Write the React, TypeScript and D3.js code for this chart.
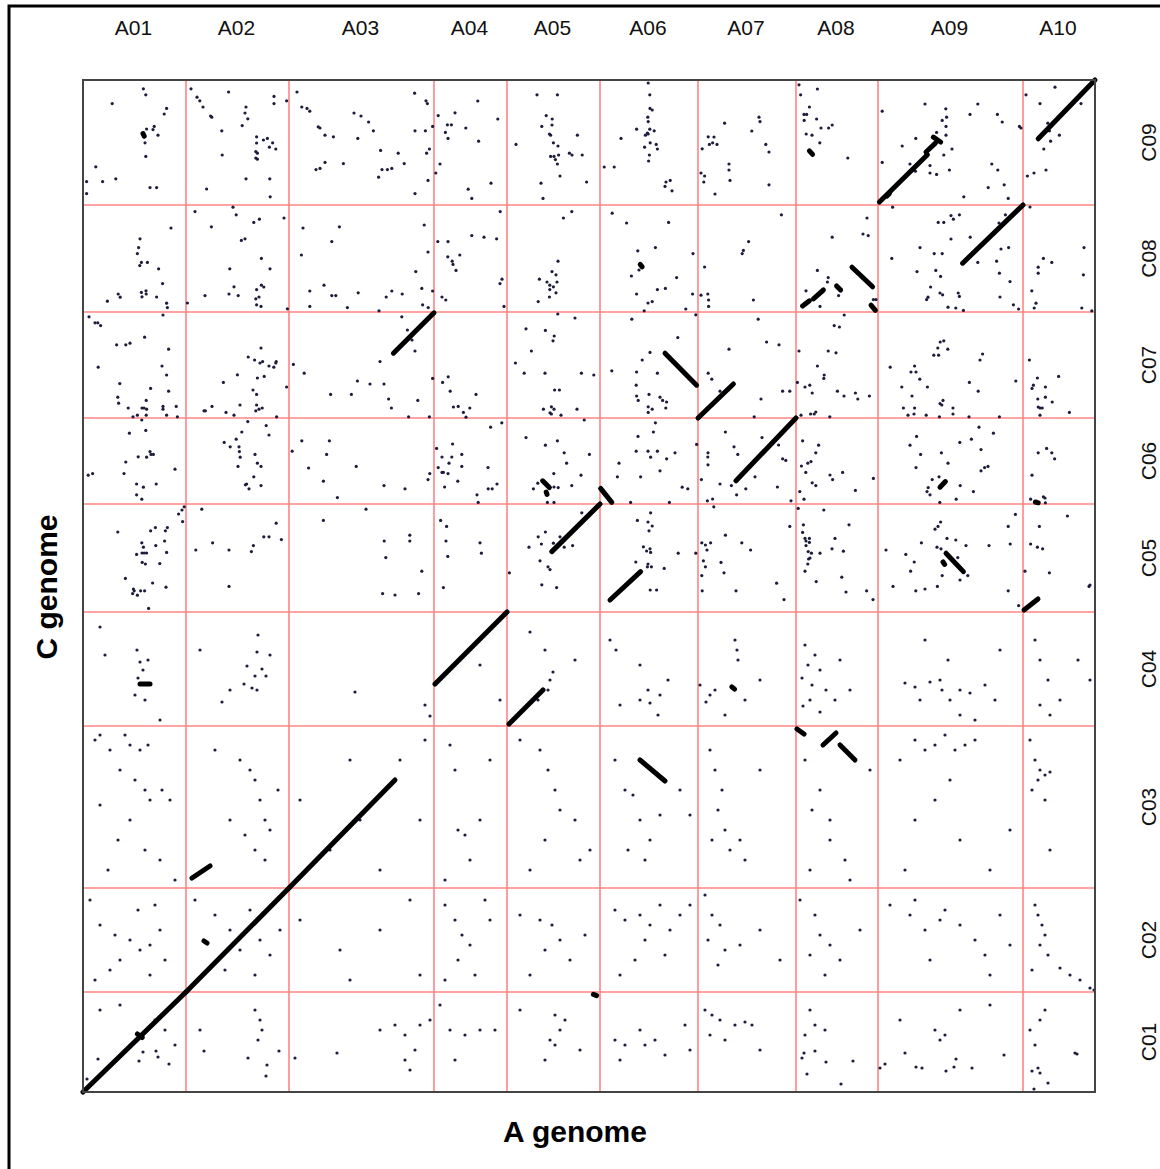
import React, { useRef, useEffect } from "react";
import * as d3 from "d3";

// chromosome names and lengths (Mb)
const aChroms = ["A01", "A02", "A03", "A04", "A05", "A06", "A07", "A08", "A09", "A10"];
const aLengths = [25.75, 25.75, 36.25, 18.25, 23.25, 24.5, 24.5, 20.5, 36.25, 18.0];
const cChroms = ["C01", "C02", "C03", "C04", "C05", "C06", "C07", "C08", "C09"];
const cLengths = [25, 26, 40.5, 28.5, 27, 21.5, 26.5, 26.75, 31.25];

// syntenic blocks, positions on the concatenated genomes: [aStart, cStart, aEnd, cEnd]
const blocks: number[][] = [
  [0, 0, 25.75, 25], [25.75, 25, 51.5, 51], [51.5, 51, 78, 78],
  [88.0, 102.0, 106.0, 120.0], [106.5, 92.0, 115.0, 100.5],
  [139.25, 83.0, 145.5, 77.75],
  [178.5, 90.75, 180.25, 89.5], [185.0, 86.75, 188.25, 89.75], [189.25, 86.75, 193.0, 83.0],
  [162.2, 101.3, 162.9, 100.7], [13.6, 14.5, 14.8, 13.6], [27.25, 53.5, 31.75, 56.5],
  [14.25, 102.0, 16.75, 102.0], [30.25, 37.75, 31.0, 37.25], [127.6, 24.4, 128.4, 24.1],
  [117.2, 135.1, 129.25, 147.0], [131.75, 123.0, 139.4, 130.1],
  [215.75, 134.7, 220.1, 130.1], [215.0, 132.5, 215.4, 131.9], [235.25, 120.5, 238.75, 123.25],
  [163.25, 152.8, 178.25, 168.5], [114.9, 152.8, 116.6, 151.1], [129.4, 150.9, 132.2, 147.4],
  [214.25, 151.2, 215.6, 152.6], [115.8, 150.0, 116.0, 149.4], [238.1, 147.5, 238.8, 147.3],
  [145.5, 184.7, 153.4, 176.7], [153.75, 168.5, 162.6, 177.0], [77.6, 184.7, 87.75, 194.8],
  [219.9, 207.2, 235.0, 221.75],
  [192.25, 206.2, 197.4, 201.3], [188.4, 201.5, 189.4, 200.5], [182.6, 198.3, 185.1, 200.5],
  [179.9, 196.5, 181.6, 197.8], [197.0, 196.7, 198.1, 195.4], [139.3, 206.9, 139.8, 206.3],
  [199.1, 222.5, 211.1, 234.3], [210.75, 235.0, 213.1, 237.2], [212.6, 238.7, 214.4, 237.5],
  [201.0, 224.0, 201.6, 224.6], [238.8, 238.3, 253.0, 253.0],
  [15.0, 239.6, 15.3, 239.0], [181.6, 235.3, 182.4, 234.4],
];

// scattered single hits: [aPos, cPos] on the concatenated genomes
const hitsC09: number[][] = [
  [15.1,250.8],[15.7,249.3],[7.3,247.1],[20.9,245.9],[20.3,244.5],[17.8,241.4],[17.5,240.6],[15.9,240.75],[15.25,238.7],[15.5,237.3],[18.75,239.2],[15.7,233.9],[3.2,231.3],[8.2,228.3],[4.9,227.6],[0.9,227.6],[0.9,224.6],[16.75,226.1],[18.4,226.1],
  [27.0,250.8],[36.4,250.0],[28.5,248.7],[29.2,247.8],[30.0,246.25],[47.75,248.9],[47.75,247.1],[50.9,247.8],[40.75,246.25],[40.5,244.75],[41.2,243.3],[31.9,244.0],[32.2,243.7],[39.8,241.6],[34.7,240.3],[43.4,238.8],[45.1,238.0],[46.1,238.4],[47.4,237.3],[43.4,237.25],[46.6,236.2],[48.2,235.75],[43.2,235.1],[43.6,234.7],[43.2,233.5],[43.6,233.2],[34.8,234.25],[40.75,228.3],[46.7,228.3],[30.9,225.75],[46.8,223.8],
  [53.5,250.0],[54.7,246.25],[56.0,245.9],[56.7,245.2],[58.8,241.3],[59.25,241.0],[60.5,239.2],[62.6,238.8],[67.75,244.75],[69.5,244.0],[71.4,242.5],[72.6,240.3],[68.7,238.4],[82.9,249.7],[85.75,247.8],[86.1,247.1],[83.0,240.3],[85.6,240.3],[87.4,241.4],[86.6,235.75],[85.9,234.7],[74.4,235.4],[78.8,234.7],[80.3,232.1],[77.2,230.9],[76.1,230.6],[74.75,230.6],[73.9,228.7],[65.1,232.1],[60.5,232.4],[59.25,230.9],[58.25,230.6],[86.25,227.9],[83.0,224.6],
  [98.7,247.75],[93.0,244.8],[88.8,244.1],[103.7,243.25],[91.1,241.8],[92.1,241.8],[95.7,241.0],[90.6,239.9],[91.25,238.4],[98.9,237.7],[89.25,232.0],[88.2,229.75],[96.3,225.7],[102.0,227.2],[97.2,223.4],
  [113.5,249.3],[118.6,249.3],[115.8,244.1],[117.3,243.25],[114.7,241.4],[117.25,241.75],[116.6,239.5],[116.9,239.2],[108.25,236.9],[117.6,237.3],[118.75,236.5],[123.6,239.2],[116.9,233.9],[117.75,233.9],[118.1,233.1],[118.9,234.25],[121.6,234.7],[122.25,234.25],[124.8,234.25],[118.6,232.0],[119.25,229.0],[125.9,227.5],[114.5,227.2],[115.0,223.4],
  [141.3,252.25],[141.7,249.3],[141.75,245.9],[142.3,245.5],[141.2,243.7],[141.3,242.6],[141.7,240.7],[142.8,240.3],[138.4,240.7],[140.6,239.2],[141.1,239.75],[141.3,239.5],[141.8,237.3],[143.3,236.9],[143.6,235.75],[140.4,236.2],[141.6,234.25],[141.4,232.75],[134.5,238.4],[130.3,231.25],[132.8,231.25],[145.75,227.5],[146.8,227.9],[145.5,226.4],[147.25,225.3],
  [160.4,242.2],[169.0,243.7],[169.25,242.6],[167.2,240.25],[156.3,238.8],[157.75,238.75],[156.6,236.9],[157.4,237.3],[158.5,236.9],[154.8,235.8],[170.7,236.9],[171.5,235.0],[161.5,232.0],[161.5,230.5],[161.75,227.9],[154.5,229.75],[155.4,229.0],[155.2,227.5],[171.5,226.8],[158.0,224.5],
  [179.0,251.8],[183.6,250.75],[179.4,249.3],[181.6,246.25],[180.25,244.4],[180.9,244.4],[180.3,242.9],[183.4,243.25],[184.5,241.0],[186.4,241.0],[187.3,241.75],[180.8,239.5],[182.25,239.2],[184.2,237.3],[191.2,233.5],
  [199.8,245.2],[210.5,247.0],[215.7,245.8],[215.9,243.7],[214.8,242.9],[215.75,241.4],[213.4,239.9],[215.75,239.2],[208.2,238.4],[204.8,236.5],[217.25,235.75],[215.2,234.25],[211.75,231.6],[211.75,229.75],[213.4,229.4],[216.6,230.5],[206.75,232.0],[208.1,230.2],[199.8,232.4],[223.7,247.0],[221.75,244.4],[228.6,244.4],[229.8,242.5],[234.1,241.4],[234.5,241.0],[227.2,232.0],[228.7,230.5],[226.3,226.1],[230.3,226.8],[231.3,223.4],[220.2,223.8],
  [235.75,249.3],[243.0,251.2],[239.25,247.1],[249.5,247.1],[241.2,242.2],[241.6,240.3],[244.1,239.2],[241.9,237.7],[240.2,235.75],[240.75,230.5],[237.75,229.75],[236.1,229.0],
];

const hitsC08: number[][] = [
  [22.0,216.0],[14.25,213.3],[13.9,211.1],[13.6,209.6],[14.6,207.4],[14.2,206.6],[16.1,207.4],[18.9,205.8],[19.9,202.1],[8.8,199.5],[9.3,198.7],[6.1,197.7],[14.6,199.9],[14.75,198.8],[15.75,200.3],[15.8,199.5],[18.4,198.75],[20.9,197.2],[21.1,196.1],
  [37.5,221.2],[38.3,219.3],[28.0,220.1],[32.1,216.3],[42.7,217.4],[44.1,218.2],[50.25,218.5],[39.6,212.9],[40.5,213.3],[44.6,208.4],[36.7,205.8],[46.75,205.8],[37.75,201.3],[36.5,199.5],[38.8,199.1],[30.5,199.1],[43.4,200.6],[44.6,201.7],[45.2,201.25],[43.2,198.3],[44.0,198.75],[43.4,196.8],[44.5,196.4],[51.1,195.8],[26.1,197.25],
  [55.0,216.0],[64.1,216.3],[54.6,209.25],[62.2,212.6],[85.3,216.75],[86.25,210.0],[83.2,205.1],[60.25,201.7],[56.7,200.25],[62.2,199.1],[63.2,199.1],[68.8,199.8],[77.2,200.25],[75.8,198.75],[79.8,199.5],[84.7,200.9],[87.4,200.25],[56.7,196.4],[66.1,196.1],[74.0,195.3],[84.9,196.8],[86.3,196.1],
  [104.3,220.1],[88.7,212.6],[91.25,212.6],[97.2,214.1],[100.25,213.7],[103.4,213.3],[91.2,208.8],[94.2,209.25],[92.3,207.7],[92.5,206.9],[93.25,205.4],[104.75,203.2],[104.25,202.1],[89.75,198.75],[90.7,198.0],[105.25,196.4],
  [122.2,220.1],[120.1,218.5],[118.75,207.7],[117.25,205.1],[118.25,204.3],[114.1,203.2],[116.0,202.5],[116.7,201.7],[117.6,201.3],[118.5,202.5],[116.7,200.6],[118.25,199.8],[116.6,198.75],[113.8,197.6],
  [132.3,219.7],[135.9,217.25],[146.4,217.4],[138.7,210.3],[143.1,211.1],[139.0,205.5],[137.1,204.0],[148.4,203.6],[143.6,200.6],[145.6,200.9],[138.4,199.5],[141.25,197.25],[142.3,197.6],[140.3,195.3],[150.7,195.75],[152.4,199.5],[152.5,209.6],
  [174.6,219.3],[166.4,212.6],[165.1,210.4],[164.8,209.6],[155.4,206.25],[154.5,199.2],[156.2,199.5],[156.4,198.0],[156.4,196.4],[167.6,198.0],
  [196.0,218.5],[187.3,213.7],[195.0,214.5],[196.3,214.1],[183.6,205.4],[186.3,203.6],[186.1,202.5],[188.9,199.1],[180.75,200.3],[184.25,196.4],[197.6,198.1],[198.25,198.1],
  [202.4,221.2],[213.8,217.4],[215.2,217.4],[217.0,219.1],[217.6,218.2],[219.1,219.3],[217.0,213.25],[221.8,213.7],[209.25,211.1],[212.8,209.6],[214.8,209.6],[202.2,208.4],[208.5,205.1],[213.2,205.4],[214.4,203.9],[211.9,201.25],[214.25,199.75],[214.9,199.3],[210.9,198.1],[211.25,198.7],[218.8,199.75],[219.1,198.9],[216.25,196.2],[218.2,196.0],[220.1,195.4],[223.7,207.4],[228.4,207.7],[229.1,204.7],[229.25,198.75],[229.5,210.75],[231.4,211.1],[231.75,202.6],[232.6,196.8],[233.9,195.75],[230.6,219.3],[229.0,217.25],
  [236.75,221.25],[250.25,211.1],[240.1,208.4],[242.2,207.4],[238.8,206.2],[238.8,204.7],[250.1,204.3],[237.2,200.3],[238.25,197.2],[237.8,196.0],[249.7,196.0],[252.2,195.3],
];

const hitsC07: number[][] = [
  [1.5,193.8],[3.0,192.3],[3.7,192.3],[4.4,191.6],[20.0,194.25],[15.4,188.7],[8.4,186.8],[10.7,186.8],[11.75,187.2],[21.4,185.7],[3.8,181.2],[19.75,181.5],[20.9,179.25],[9.2,177.1],[16.9,175.9],[21.4,175.2],[8.7,173.7],[8.9,172.2],[15.8,172.9],[11.3,171.0],[14.75,171.0],[15.25,171.0],[15.9,170.7],[20.0,171.4],[20.0,170.7],[23.3,171.4],[12.5,168.8],[13.6,169.2],[15.8,169.2],[20.9,169.2],[23.6,168.8],
  [44.5,186.0],[41.3,183.75],[42.9,183.0],[44.25,182.25],[44.9,182.6],[48.3,182.6],[48.2,182.25],[46.5,181.5],[47.7,181.2],[38.6,179.3],[43.6,178.5],[45.3,178.9],[35.1,177.4],[42.5,175.5],[43.4,174.4],[50.9,176.25],[39.25,171.75],[32.25,171.4],[30.25,170.3],[30.6,170.3],[35.75,169.9],[37.75,169.2],[43.2,170.3],[44.0,170.7],[44.8,171.0],[43.4,171.75],[48.4,168.8],
  [79.7,193.8],[81.1,190.5],[82.25,188.0],[83.0,185.25],[74.25,182.6],[52.6,181.9],[55.3,179.7],[68.6,177.75],[71.75,177.0],[75.25,177.0],[61.9,174.4],[67.1,174.4],[76.4,173.25],[77.1,171.0],[83.7,172.9],[81.4,168.8],[86.6,168.8],[87.4,178.4],
  [91.3,178.8],[89.9,177.4],[91.8,175.2],[98.25,174.4],[92.6,171.25],[93.8,171.4],[96.7,171.0],[95.1,169.9],[95.75,168.7],
  [118.7,194.5],[123.0,193.5],[110.75,190.8],[115.6,190.4],[117.8,189.0],[117.5,187.8],[112.1,185.25],[108.1,182.25],[110.3,179.7],[115.5,179.7],[124.6,179.7],[127.7,179.25],[117.9,175.5],[119.1,175.5],[115.1,170.7],[117.1,171.3],[117.75,170.7],[116.75,169.8],[117.1,169.5],[119.5,169.2],[123.5,170.7],
  [137.2,193.2],[148.7,188.6],[141.75,184.9],[139.8,183.0],[132.2,180.3],[138.4,180.0],[143.6,179.7],[138.3,176.7],[138.4,174.0],[138.8,172.9],[141.5,174.4],[144.25,173.7],[144.9,172.9],[145.9,172.5],[145.7,171.0],[141.3,171.3],[142.3,170.7],[141.3,169.9],[153.2,194.3],
  [168.8,193.2],[170.9,187.5],[174.0,186.8],[161.5,185.7],[156.3,179.7],[157.2,178.2],[159.25,175.2],[169.5,173.25],[174.9,175.2],[176.7,175.2],[167.8,168.8],
  [190.3,194.25],[187.8,191.6],[189.1,191.25],[179.0,185.25],[186.3,185.25],[188.25,184.8],[183.6,181.5],[185.3,179.25],[185.2,178.4],[180.5,176.25],[181.7,176.7],[182.3,174.75],[188.6,175.2],[190.25,174.0],[193.1,174.75],[193.7,173.25],[196.6,174.0],[178.6,177.4],[179.5,169.2],[181.9,169.5],[182.8,169.5],[183.2,170.0],[186.7,168.8],
  [214.3,187.5],[215.2,187.8],[213.7,186.0],[216.2,185.7],[212.7,184.2],[213.9,184.2],[224.9,184.5],[224.25,183.0],[201.8,181.2],[207.9,181.5],[207.0,180.0],[208.25,180.0],[209.2,178.2],[204.7,176.25],[211.1,176.25],[221.6,177.4],[223.8,175.2],[233.2,177.75],[207.25,174.0],[214.25,172.1],[215.0,172.9],[214.7,171.75],[205.1,171.0],[207.9,171.0],[217.5,171.0],[206.25,169.2],[207.75,169.5],[210.8,169.2],[214.1,168.8],[217.5,169.5],[221.5,168.8],[229.1,168.8],
  [236.6,183.0],[238.6,178.5],[243.9,178.9],[237.6,176.7],[237.25,175.9],[240.6,176.25],[238.7,173.25],[240.6,173.7],[242.3,172.5],[238.8,171.25],[239.25,171.0],[239.8,171.0],[246.6,169.9],[239.25,169.2],
];

const hitsC06: number[][] = [
  [14.7,168.0],[15.7,165.4],[11.6,164.7],[16.75,160.1],[17.0,159.4],[17.6,159.4],[13.8,158.8],[15.9,158.7],[10.7,157.5],[1.3,154.2],[2.4,154.6],[10.25,154.6],[23.0,155.7],[13.4,152.0],[15.1,151.2],[18.3,152.0],[13.4,149.3],[14.7,148.2],
  [41.2,167.6],[45.8,166.6],[46.5,164.25],[39.7,165.0],[38.3,163.2],[35.3,162.4],[36.8,161.3],[39.0,161.3],[39.1,160.1],[39.3,158.7],[43.0,159.4],[38.75,156.4],[43.6,157.2],[44.5,156.4],[42.7,153.8],[40.9,152.0],[40.6,151.8],[41.5,150.8],[44.5,151.6],
  [54.7,162.8],[61.6,162.8],[52.3,160.2],[60.9,159.4],[56.4,156.0],[68.3,156.4],[60.1,152.7],[63.6,148.6],[75.25,151.6],[80.5,150.8],[86.25,153.1],[86.7,154.6],
  [104.7,167.3],[101.9,166.2],[92.4,162.0],[88.4,160.9],[89.75,158.75],[92.2,158.75],[94.7,159.4],[91.5,157.2],[88.8,156.1],[89.75,154.9],[90.1,154.9],[91.25,154.6],[94.7,156.4],[101.25,156.1],[93.7,152.7],[90.4,151.25],[101.3,150.8],[102.3,150.8],[103.5,152.0],[98.5,149.3],[98.8,147.4],
  [125.3,168.0],[110.75,163.6],[118.6,162.8],[115.6,161.7],[120.3,159.8],[126.6,159.4],[120.9,157.2],[124.5,154.2],[117.7,154.6],[113.7,152.2],[116.1,147.4],[117.75,147.4],[117.75,151.25],[118.8,151.1],[122.2,151.6],[112.6,150.8],
  [143.1,167.3],[142.6,165.0],[138.75,163.9],[153.4,161.9],[138.3,160.2],[141.25,160.2],[143.6,160.2],[141.9,158.7],[145.9,158.3],[148.0,159.8],[134.0,157.2],[133.6,153.8],[139.4,153.8],[144.25,155.3],[149.8,151.2],[151.2,150.8],[136.9,147.4],[146.6,147.4],
  [160.6,165.0],[169.75,163.6],[173.9,161.75],[162.75,161.3],[163.7,159.4],[156.25,159.8],[156.2,158.75],[156.25,156.8],[174.9,158.3],[175.7,157.9],[168.0,153.8],[154.6,153.1],[159.25,152.0],[162.1,151.6],[165.7,150.8],[173.6,151.25],[163.4,149.3],[157.4,148.25],[156.1,147.8],[177.0,147.8],
  [179.9,162.8],[183.9,161.7],[183.2,159.8],[182.0,157.6],[181.2,157.2],[179.6,156.5],[180.7,154.9],[186.75,154.25],[187.4,153.1],[189.9,154.9],[182.3,152.3],[183.2,151.6],[193.1,150.4],[197.6,153.4],[179.2,150.1],[180.25,148.2],
  [224.0,166.2],[227.6,164.7],[208.4,163.9],[206.75,161.7],[219.2,162.4],[222.1,163.2],[209.4,159.4],[214.6,159.8],[224.5,160.6],[216.25,157.2],[208.25,156.1],[224.5,155.3],[225.4,156.1],[226.25,156.4],[214.0,153.8],[212.3,153.1],[211.3,151.1],[211.0,150.1],[211.75,149.3],[219.3,151.6],[222.6,150.1],[214.2,147.4],[218.3,148.2],
  [240.9,160.9],[238.8,159.8],[242.2,159.8],[242.9,158.3],[237.25,154.2],[240.1,148.8],[240.5,148.5],[236.9,148.2],[240.6,147.3],
];

const hitsC05: number[][] = [
  [25.3,146.3],[24.75,145.5],[23.9,144.5],[24.9,142.6],[8.7,140.0],[16.9,140.3],[18.1,141.1],[21.1,141.1],[20.6,140.3],[14.7,137.3],[15.1,136.2],[20.4,137.75],[18.2,136.6],[13.4,134.4],[14.75,134.75],[15.3,134.75],[15.9,134.75],[20.9,134.9],[19.2,132.1],[14.8,132.4],[15.6,132.0],[10.6,128.4],[17.4,127.25],[12.6,125.75],[12.8,125.3],[14.4,125.3],[15.4,125.3],[12.4,124.6],[13.6,124.2],[20.75,126.2],[16.4,120.9],
  [29.7,145.7],[48.3,142.2],[45.2,138.8],[46.5,138.8],[49.6,138.1],[32.4,137.3],[28.2,135.5],[36.5,135.5],[42.6,136.6],[42.1,135.1],[36.5,126.4],
  [70.75,145.7],[60.1,142.9],[81.7,139.2],[81.7,137.75],[75.3,137.75],[75.7,133.6],[84.7,130.2],[74.9,124.6],[78.0,124.25],[83.9,124.6],
  [89.4,142.9],[90.9,141.4],[90.75,137.75],[91.2,133.9],[99.25,137.3],[99.6,134.7],[90.1,126.1],
  [124.7,144.8],[115.6,140.0],[113.8,138.8],[114.6,137.0],[117.6,137.2],[119.25,138.8],[120.3,136.2],[122.4,136.6],[111.5,136.2],[114.25,132.8],[116.25,131.3],[116.75,130.6],[106.6,129.8],[114.7,126.8],[118.4,126.1],
  [141.9,144.8],[138.6,142.9],[141.25,142.5],[142.3,141.5],[141.5,140.3],[140.1,136.3],[141.75,135.8],[140.9,135.25],[141.9,134.9],[138.2,132.5],[141.25,132.0],[142.1,131.3],[141.1,131.3],[145.3,130.9],[148.8,134.7],[153.2,134.7],[141.8,125.5],[143.4,125.5],
  [157.7,146.3],[160.6,139.2],[164.7,137.3],[166.9,135.5],[154.7,137.3],[155.6,136.75],[156.9,137.3],[156.0,135.5],[155.1,132.8],[155.6,131.3],[159.5,132.4],[160.25,129.8],[154.7,129.1],[154.8,125.3],[163.25,125.3],[173.4,127.2],[176.7,141.4],[175.25,123.1],
  [178.8,145.9],[185.2,145.5],[180.1,141.8],[179.9,139.9],[180.5,138.4],[181.6,138.4],[180.75,137.75],[181.6,137.4],[188.0,138.4],[180.75,136.6],[191.5,141.8],[181.3,135.1],[182.1,134.7],[184.25,134.7],[181.75,133.5],[181.4,133.25],[187.25,135.8],[190.1,135.2],[181.2,132.0],[180.5,130.2],[189.7,128.7],[183.3,127.6],[190.75,125.0],[195.9,125.3],[197.5,123.1],
  [214.4,142.5],[213.75,141.4],[213.0,140.7],[216.0,138.4],[218.2,138.0],[220.75,136.6],[226.5,136.6],[231.8,137.0],[233.1,144.4],[231.3,141.4],[200.75,135.5],[209.6,137.3],[213.5,136.2],[214.5,135.8],[205.7,134.4],[207.8,132.5],[206.9,130.2],[218.7,133.6],[214.8,129.1],[221.2,129.1],[219.25,128.0],[202.5,126.4],[208.2,125.3],[210.5,125.75],[213.6,126.4],[231.3,125.3],[233.9,121.6],
  [246.1,144.0],[239.1,141.4],[236.9,137.0],[238.6,136.2],[239.9,135.8],[241.6,129.8],[235.5,130.2],[251.5,126.4],[251.75,126.75],
];

const hitsC04: number[][] = [
  [13.5,110.5],[14.25,107.5],[15.0,105.5],[13.75,103.5],[4.25,116.25],[5.5,109.25],[19.25,93.0],[13.0,99.25],[15.5,98.0],[16.25,108.0],
  [43.75,114.25],[43.5,110.0],[41.0,106.5],[44.75,105.75],[43.0,104.0],[45.75,104.0],[40.25,102.0],[42.25,101.0],[43.5,100.5],[36.75,100.5],[34.75,97.5],[46.75,109.25],[29.25,110.5],
  [68.0,100.0],[85.5,96.75],[86.75,94.0],
  [99.25,106.75],[104.25,98.0],
  [111.75,115.0],[115.5,110.5],[117.5,105.0],[116.75,103.0],[116.25,100.5],[113.75,98.0],[123.0,108.0],
  [131.75,113.0],[133.25,110.5],[139.25,106.75],[141.25,100.5],[144.25,99.25],[141.75,97.25],[134.25,96.75],[139.25,98.0],[146.25,103.0],[143.75,94.25],
  [154.25,101.75],[156.75,99.25],[155.75,97.5],[158.0,100.5],[163.0,113.0],[163.75,108.0],[163.5,110.5],[169.25,103.0],[165.5,98.0],[160.5,94.25],
  [180.5,111.75],[183.0,109.25],[181.25,106.75],[184.25,105.5],[179.75,103.5],[182.25,101.75],[185.75,100.5],[181.75,98.0],[180.0,96.5],[184.25,95.0],[189.25,108.0],[188.0,98.0],[191.75,100.5],
  [205.5,102.25],[208.0,101.25],[211.75,102.5],[214.75,100.5],[214.25,103.0],[216.75,98.0],[219.25,100.5],[221.75,99.75],[225.5,101.75],[228.0,98.0],[229.25,110.5],[219.25,94.25],[216.25,108.0],[209.25,98.0],[223.0,93.0],[210.5,113.0],
  [238.0,113.0],[239.25,108.0],[241.25,103.0],[244.25,98.0],[248.75,108.0],[251.75,103.0],[239.25,96.75],[241.75,94.25],
];

const hitsC03: number[][] = [
  [3.0,88.0],[4.25,89.25],[6.75,85.5],[10.5,89.25],[11.75,86.75],[14.25,85.5],[16.25,86.75],[9.25,80.5],[13.0,78.0],[15.5,75.5],[16.75,73.0],[19.75,75.5],[21.75,73.0],[11.75,68.0],[8.75,63.0],[15.5,60.5],[19.25,58.0],[6.25,55.5],[23.0,53.0],[4.25,71.75],
  [33.0,85.5],[39.25,83.0],[41.75,80.5],[43.0,78.0],[44.25,73.0],[45.5,68.0],[46.75,65.5],[40.5,64.25],[43.0,60.5],[48.75,75.5],[36.75,68.0],[45.5,58.0],
  [54.25,73.0],[61.75,60.5],[69.25,68.0],[79.25,83.0],[84.25,68.0],[85.5,88.0],[74.25,55.5],[66.75,83.0],
  [91.75,86.75],[93.0,80.5],[93.75,65.5],[95.5,64.25],[99.25,68.0],[96.75,58.0],[90.5,53.0],[101.75,83.0],
  [109.25,88.0],[114.25,85.5],[116.25,80.5],[118.0,75.5],[119.25,70.5],[123.0,68.0],[115.5,63.0],[124.25,58.0],[126.75,60.5],[111.75,55.5],
  [133.0,83.0],[135.5,75.5],[137.5,74.25],[139.25,68.0],[141.75,63.0],[136.25,60.5],[140.5,58.0],[149.25,75.5],[151.75,69.25],[144.25,69.25],
  [156.75,85.5],[158.0,80.5],[159.75,75.5],[158.75,70.5],[160.5,65.5],[164.25,63.0],[165.5,58.0],[161.75,60.5],[169.25,80.5],[157.25,63.0],
  [180.5,83.0],[184.25,75.5],[182.25,70.5],[186.75,68.0],[186.75,63.0],[190.5,58.0],[191.75,53.0],[181.75,55.5],[196.75,80.5],
  [204.25,83.0],[208.0,88.0],[210.5,85.5],[213.0,86.75],[215.5,89.25],[218.0,85.5],[220.5,86.75],[223.0,88.0],[216.75,78.0],[213.0,73.0],[208.0,68.0],[219.25,63.0],[226.75,55.5],[231.75,65.5],[205.5,55.5],
  [238.0,83.0],[239.25,80.5],[240.5,79.25],[241.75,80.0],[238.75,78.0],[237.25,75.5],[240.5,73.0],[241.75,60.5],[236.75,88.0],
];

const hitsC02: number[][] = [
  [1.75,48.0],[4.25,41.75],[8.0,39.25],[11.75,38.0],[14.25,35.5],[16.75,36.75],[19.25,40.5],[13.75,45.5],[18.0,46.75],[9.25,33.0],[6.75,30.5],[16.75,29.25],[20.5,33.0],[3.0,28.0],
  [28.0,48.0],[33.0,44.25],[36.75,40.5],[39.25,35.5],[41.75,45.5],[44.25,38.0],[46.75,34.25],[43.0,29.25],[49.25,40.5],[35.5,30.5],
  [54.25,43.0],[64.25,35.5],[74.25,40.5],[81.75,48.0],[84.25,29.25],[66.75,28.0],
  [90.5,46.75],[93.0,43.0],[94.75,39.25],[96.75,36.75],[93.75,33.0],[100.5,48.0],[101.75,43.0],[98.0,29.25],[90.5,28.0],
  [109.25,44.25],[114.25,43.0],[117.25,41.75],[119.25,38.0],[115.5,35.5],[121.75,33.0],[111.75,29.25],[125.5,39.25],
  [133.0,45.5],[135.5,43.0],[139.25,44.25],[141.75,41.75],[144.25,46.75],[146.75,40.5],[149.25,44.25],[151.75,46.75],[140.5,38.0],[138.0,33.0],[145.5,34.25],[134.25,29.25],
  [155.5,49.25],[157.25,44.25],[159.25,41.75],[156.25,38.0],[160.5,35.5],[164.25,36.75],[158.75,31.75],[169.25,40.5],[174.25,33.0],
  [179.25,48.0],[183.0,44.25],[184.25,39.25],[181.75,34.25],[186.75,36.75],[189.25,33.0],[185.5,29.25],[194.25,40.5],
  [201.75,46.75],[206.75,44.25],[210.5,40.5],[214.25,43.0],[215.5,45.5],[219.25,41.75],[223.0,38.0],[225.5,34.25],[229.25,44.25],[231.75,36.75],[226.75,29.25],[211.75,33.0],[208.0,48.0],
  [238.0,46.75],[238.75,44.25],[239.75,41.75],[240.5,39.25],[239.25,36.75],[241.25,34.25],[244.25,31.0],[246.75,29.25],[249.25,28.0],[251.75,26.0],[252.75,25.5],[237.25,30.5],
];

const hitsC01: number[][] = [
  [3.75,8.25],[1.0,3.25],[15.0,10.0],[14.0,7.75],[18.75,8.75],[21.5,7.0],[18.25,10.25],[4.25,20.5],[9.25,21.75],[18.0,18.0],[20.5,15.5],[23.0,11.75],
  [30.25,10.25],[41.25,8.5],[46.0,6.75],[45.75,4.0],[49.0,10.25],[43.0,20.5],[44.25,18.0],[44.75,15.5],[43.75,13.0],[29.25,15.5],
  [53.0,8.5],[63.5,9.75],[74.25,15.5],[78.0,16.75],[80.5,14.25],[84.25,16.75],[86.75,18.0],[80.5,8.0],[83.0,10.5],[81.75,5.5],
  [89.25,21.75],[91.75,15.5],[95.5,14.25],[99.25,15.5],[103.0,15.5],[93.0,8.0],
  [118.0,19.25],[119.25,15.5],[120.5,18.0],[116.75,13.0],[118.0,11.75],[115.5,8.0],[124.25,10.5],[109.25,20.5],
  [133.0,13.0],[135.5,11.75],[139.25,15.5],[140.5,11.75],[143.0,13.0],[134.25,8.0],[145.5,9.25],[150.5,16.75],[151.75,10.5],
  [155.5,20.5],[157.25,19.25],[159.25,18.0],[163.0,16.75],[165.5,17.5],[167.25,16.75],[156.75,14.25],[160.5,13.0],[169.25,10.5],
  [180.25,9.75],[179.75,8.5],[183.0,10.25],[185.75,7.5],[192.5,7.75],[181.0,4.5],[189.5,2.0],[181.75,20.5],[183.0,16.75],[185.5,15.5],[180.5,14.25],
  [199.25,6.0],[200.5,7.0],[205.5,9.75],[208.25,6.25],[209.75,6.0],[215.75,5.25],[217.75,6.25],[218.25,8.25],[222.25,6.0],[230.25,9.25],[213.0,15.5],[214.25,13.0],[215.5,14.25],[204.25,18.0],[219.25,20.5],[226.75,21.75],
  [237.25,5.25],[238.75,6.0],[239.25,4.75],[241.25,2.25],[237.75,0.75],[248.0,9.75],[248.5,9.5],[236.75,15.5],[239.25,18.0],[238.0,11.75],[240.5,20.5],
];

const allHits = [
  ...hitsC09, ...hitsC08, ...hitsC07, ...hitsC06, ...hitsC05,
  ...hitsC04, ...hitsC03, ...hitsC02, ...hitsC01,
];

const cumulative = (lengths: number[]) => {
  const starts: number[] = [];
  let s = 0;
  lengths.forEach((l) => {
    starts.push(s);
    s += l;
  });
  return { starts, total: s };
};

const App = () => {
  const d3Container = useRef<SVGSVGElement>(null);

  useEffect(() => {
    if (!d3Container.current) return;
    const svg = d3.select(d3Container.current);
    svg.selectAll("*").remove();

    const left = 83, right = 1095, top = 80, bottom = 1092;
    const aCum = cumulative(aLengths);
    const cCum = cumulative(cLengths);

    const x = d3.scaleLinear().domain([0, aCum.total]).range([left, right]);
    const y = d3.scaleLinear().domain([0, cCum.total]).range([bottom, top]);

    // outer frame
    svg
      .append("rect")
      .attr("x", 9)
      .attr("y", 6)
      .attr("width", 1180)
      .attr("height", 1180)
      .attr("fill", "white")
      .attr("stroke", "black")
      .attr("stroke-width", 3);

    // chromosome boundaries
    const grid = svg.append("g").attr("stroke", "#ff8484").attr("stroke-width", 1.6);
    aCum.starts.slice(1).forEach((s) => {
      grid.append("line").attr("x1", x(s)).attr("x2", x(s)).attr("y1", top).attr("y2", bottom);
    });
    cCum.starts.slice(1).forEach((s) => {
      grid.append("line").attr("x1", left).attr("x2", right).attr("y1", y(s)).attr("y2", y(s));
    });

    // single hits
    svg
      .append("g")
      .selectAll("circle")
      .data(allHits)
      .join("circle")
      .attr("cx", (d) => x(d[0]))
      .attr("cy", (d) => y(d[1]))
      .attr("r", 1.6)
      .attr("fill", "#1c1c3c");

    // syntenic blocks
    svg
      .append("g")
      .selectAll("line")
      .data(blocks)
      .join("line")
      .attr("x1", (d) => x(d[0]))
      .attr("y1", (d) => y(d[1]))
      .attr("x2", (d) => x(d[2]))
      .attr("y2", (d) => y(d[3]))
      .attr("stroke", "black")
      .attr("stroke-width", 5)
      .attr("stroke-linecap", "round");

    // plot border
    svg
      .append("rect")
      .attr("x", left)
      .attr("y", top)
      .attr("width", right - left)
      .attr("height", bottom - top)
      .attr("fill", "none")
      .attr("stroke", "#444")
      .attr("stroke-width", 2);

    const font = "'Liberation Sans', Arial, sans-serif";

    // A chromosome labels
    svg
      .append("g")
      .selectAll("text")
      .data(aChroms)
      .join("text")
      .attr("x", (d, i) => x(aCum.starts[i] + aLengths[i] / 2) - 1)
      .attr("y", 35)
      .attr("text-anchor", "middle")
      .attr("font-family", font)
      .attr("font-size", 21)
      .attr("fill", "#111")
      .text((d) => d);

    // C chromosome labels
    svg
      .append("g")
      .selectAll("text")
      .data(cChroms)
      .join("text")
      .attr("transform", (d, i) => `translate(1156,${y(cCum.starts[i] + cLengths[i] / 2)}) rotate(-90)`)
      .attr("text-anchor", "middle")
      .attr("font-family", font)
      .attr("font-size", 21)
      .attr("fill", "#111")
      .text((d) => d);

    // axis titles
    svg
      .append("text")
      .attr("x", 575)
      .attr("y", 1142)
      .attr("text-anchor", "middle")
      .attr("font-family", font)
      .attr("font-weight", "bold")
      .attr("font-size", 30)
      .text("A genome");

    svg
      .append("text")
      .attr("transform", "translate(57,587) rotate(-90)")
      .attr("text-anchor", "middle")
      .attr("font-family", font)
      .attr("font-weight", "bold")
      .attr("font-size", 30)
      .text("C genome");
  }, []);

  return (
    <svg
      ref={d3Container}
      width={1160}
      height={1169}
      style={{ position: "absolute", left: 0, top: 0 }}
    />
  );
};

export default App;
